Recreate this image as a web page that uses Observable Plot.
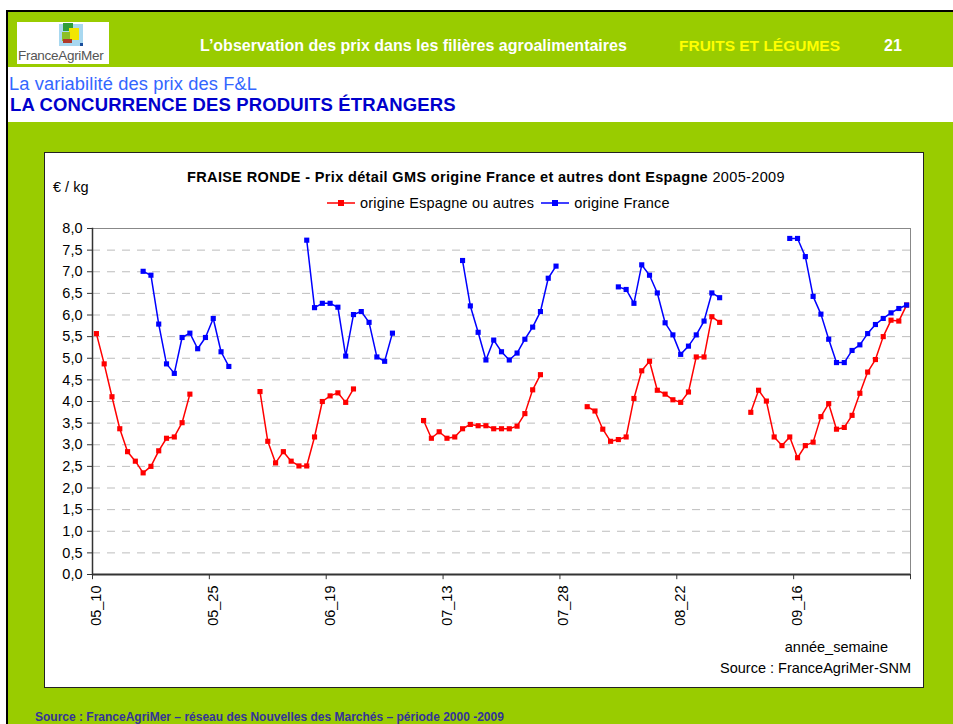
<!DOCTYPE html>
<html><head><meta charset="utf-8">
<script src="https://cdn.jsdelivr.net/npm/d3@7"></script>
<script src="https://cdn.jsdelivr.net/npm/@observablehq/plot@0.6"></script>
<style>
  html,body{margin:0;padding:0;background:#fff;}
  #page{position:relative;width:953px;height:724px;overflow:hidden;font-family:"Liberation Sans",Arial,sans-serif;}
  .abs{position:absolute;white-space:nowrap;}
</style>
</head><body>
<div id="page">
  <div class="abs" style="left:6px;top:10px;width:947px;height:2px;background:#000"></div>
  <div class="abs" style="left:6px;top:10px;width:2px;height:714px;background:#000"></div>
  <div class="abs" style="left:8px;top:12px;width:945px;height:55px;background:#99cc00"></div>
  <div class="abs" style="left:8px;top:122px;width:945px;height:602px;background:#99cc00"></div>
  <!-- logo -->
  <div class="abs" style="left:17px;top:22px;width:92px;height:42px;background:#fff"></div>
  <div class="abs" style="left:59px;top:24px;width:24px;height:22px;background:#a8d8f0"></div>
  <div class="abs" style="left:63px;top:23px;width:10px;height:8px;background:#2e9e3a"></div>
  <div class="abs" style="left:69px;top:28px;width:10px;height:12px;background:#f2e600"></div>
  <div class="abs" style="left:62px;top:32px;width:8px;height:9px;background:#8cbf26"></div>
  <div class="abs" style="left:63px;top:39px;width:9px;height:4px;background:#b0392a"></div>
  <div class="abs" style="left:80px;top:43px;width:3px;height:3px;background:#1a4f9c"></div>
  <div class="abs" style="left:18px;top:48px;font-size:13.5px;color:#555;letter-spacing:-0.3px">FranceAgriMer</div>
  <!-- header -->
  <div class="abs" style="left:200px;top:37px;font-size:16px;font-weight:bold;color:#fff">L’observation des prix dans les filières agroalimentaires</div>
  <div class="abs" style="left:679px;top:37px;font-size:15.5px;font-weight:bold;color:#ffff00">FRUITS ET LÉGUMES</div>
  <div class="abs" style="left:884px;top:37px;font-size:16px;font-weight:bold;color:#fff">21</div>
  <div class="abs" style="left:9px;top:75px;font-size:18.3px;line-height:18px;color:#3366ff;letter-spacing:0.1px">La variabilité des prix des F&amp;L</div>
  <div class="abs" style="left:10px;top:96px;font-size:18.5px;line-height:18px;font-weight:bold;color:#0000cc;letter-spacing:0.15px">LA CONCURRENCE DES PRODUITS ÉTRANGERS</div>
  <!-- chart box -->
  <div class="abs" style="left:44px;top:152px;width:880px;height:536px;background:#fff;border:1.5px solid #222;box-sizing:border-box"></div>
  <div class="abs" style="left:44px;top:169px;width:884px;text-align:center;font-size:14.5px;letter-spacing:0.35px;color:#000"><b>FRAISE RONDE - Prix détail GMS origine France et autres dont Espagne</b> 2005-2009</div>
  <div class="abs" style="left:53px;top:179px;font-size:14.5px;color:#000">€ / kg</div>
  <div class="abs" id="legend" style="left:326px;top:195px;font-size:14.5px;letter-spacing:0.2px;color:#000;display:flex;align-items:center;gap:0"></div>
  <div id="chart" class="abs" style="left:44px;top:218px"></div>
  <div class="abs" style="right:65px;top:639px;font-size:14.5px;color:#000">année_semaine</div>
  <div class="abs" style="right:42px;top:660px;font-size:14.5px;color:#000">Source : FranceAgriMer-SNM</div>
  <div class="abs" style="left:35px;top:710px;font-size:12px;font-weight:bold;color:#333399">Source : FranceAgriMer – réseau des Nouvelles des Marchés – période 2000 -2009</div>
</div>
<script>
// ---- data ----
const years = ["05", "06", "07", "08", "09"];
const weeks = [10,11,12,13,14,15,16,17,18,19,20,21,22,23,24,25,26,27,28,29,30];
const tickLabels = ["05_10", "05_25", "06_19", "07_13", "07_28", "08_22", "09_16"];
const yTicks = [0,0.5,1,1.5,2,2.5,3,3.5,4,4.5,5,5.5,6,6.5,7,7.5,8];

// origine Espagne ou autres (weeks 10..30 of each year)
const spain05 = [5.57,4.87,4.11,3.37,2.84,2.62,2.35,2.50,2.86,3.15,3.18,3.51,4.17,null,null,null,null,null,null,null,null];
const spain06 = [4.23,3.08,2.58,2.84,2.62,2.51,2.51,3.18,4.00,4.13,4.20,3.98,4.29,null,null,null,null,null,null,null,null];
const spain07 = [3.56,3.15,3.30,3.15,3.18,3.37,3.47,3.44,3.44,3.37,3.37,3.37,3.43,3.72,4.27,4.62,null,null,null,null,null];
const spain08 = [3.88,3.78,3.36,3.08,3.12,3.18,4.07,4.71,4.93,4.26,4.17,4.04,3.98,4.22,5.03,5.03,5.96,5.83,null,null,null];
const spain09 = [3.75,4.26,4.01,3.18,2.98,3.18,2.70,2.98,3.06,3.65,3.95,3.36,3.40,3.68,4.19,4.68,4.97,5.50,5.88,5.86,6.23];

// origine France (weeks 10..30 of each year)
const france05 = [null,null,null,null,null,null,7.01,6.92,5.79,4.87,4.65,5.48,5.58,5.22,5.48,5.92,5.15,4.81,null,null,null];
const france06 = [null,null,null,null,null,null,7.73,6.17,6.27,6.27,6.18,5.05,6.01,6.08,5.83,5.03,4.93,5.58,null,null,null];
const france07 = [null,null,null,null,null,7.26,6.21,5.60,4.96,5.42,5.15,4.96,5.12,5.44,5.72,6.08,6.85,7.13,null,null,null];
const france08 = [null,null,null,null,6.65,6.59,6.27,7.16,6.92,6.51,5.82,5.54,5.09,5.28,5.54,5.86,6.51,6.40,null,null,null];
const france09 = [null,null,null,null,null,7.77,7.77,7.35,6.43,6.02,5.44,4.90,4.90,5.18,5.31,5.57,5.78,5.92,6.05,6.15,6.23];

const seriesNames = ["origine Espagne ou autres", "origine France"];
const seriesColors = ["#ff0000", "#0000ff"];

// ---- build tables ----
const categories = years.flatMap(y => weeks.map(w => y + "_" + w));
const spainVals = [].concat(spain05, spain06, spain07, spain08, spain09);
const franceVals = [].concat(france05, france06, france07, france08, france09);
const spainRows = categories.map((c, i) => ({cat: c, v: spainVals[i]}));
const franceRows = categories.map((c, i) => ({cat: c, v: franceVals[i]}));

const W = 880, H = 420, mL = 48, mR = 14, mT = 10, mB = 64;
const step = (W - mL - mR) / categories.length;
const font = "'Liberation Sans', Arial, sans-serif";

const chart = Plot.plot({
  width: W, height: H,
  marginLeft: mL, marginRight: mR, marginTop: mT, marginBottom: mB,
  style: {fontFamily: font, fontSize: "14.5px", color: "#000", background: "transparent", overflow: "visible"},
  x: {type: "point", domain: categories, padding: 0.5, axis: null},
  y: {domain: [0, 8], axis: null},
  marks: [
    Plot.gridY(yTicks.filter(d => d > 0 && d < 8), {stroke: "#bdbdbd", strokeOpacity: 1, strokeDasharray: "8,7"}),
    Plot.frame({stroke: "#888", strokeWidth: 1}),
    Plot.frame({anchor: "left", stroke: "#333", strokeWidth: 1.5}),
    Plot.ruleY([0], {stroke: "#333", strokeWidth: 2}),
    Plot.axisY(yTicks, {tickSize: 5, tickPadding: 5, stroke: "#333", fontSize: 14.5,
      tickFormat: d => d.toFixed(1).replace(".", ","), label: null}),
    Plot.ruleX(tickLabels, {x: d => d, y1: 0, y2: -0.12, dx: -step / 2, stroke: "#333"}),
    Plot.ruleX([categories[categories.length - 1]], {x: d => d, y1: 0, y2: -0.12, dx: step / 2, stroke: "#333"}),
    Plot.axisX(tickLabels, {tickSize: 0, tickRotate: -90, tickPadding: 11, fontSize: 14.5, label: null}),
    Plot.line(spainRows, {x: "cat", y: "v", stroke: seriesColors[0], strokeWidth: 1.5}),
    Plot.line(franceRows, {x: "cat", y: "v", stroke: seriesColors[1], strokeWidth: 1.5}),
    Plot.dot(spainRows.filter(d => d.v != null), {x: "cat", y: "v", symbol: "square", r: 2.9, fill: seriesColors[0], stroke: "none"}),
    Plot.dot(franceRows.filter(d => d.v != null), {x: "cat", y: "v", symbol: "square", r: 2.9, fill: seriesColors[1], stroke: "none"})
  ]
});
document.getElementById("chart").appendChild(chart);

// legend
const leg = document.getElementById("legend");
seriesNames.forEach((name, i) => {
  const sw = document.createElementNS("http://www.w3.org/2000/svg", "svg");
  sw.setAttribute("width", 30); sw.setAttribute("height", 10);
  sw.innerHTML = `<line x1="1" y1="5" x2="29" y2="5" stroke="${seriesColors[i]}" stroke-width="1.5"/><rect x="12" y="2" width="6" height="6" fill="${seriesColors[i]}"/>`;
  sw.style.marginRight = "4px";
  leg.appendChild(sw);
  const t = document.createElement("span");
  t.textContent = name;
  t.style.marginRight = "6px";
  leg.appendChild(t);
});
</script>
</body></html>
